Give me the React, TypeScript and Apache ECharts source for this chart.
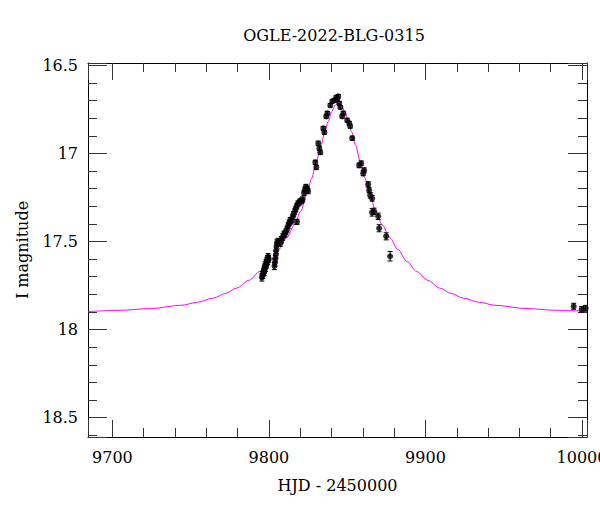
import React, { useEffect, useRef } from "react";
import * as echarts from "echarts";

const TITLE = "OGLE-2022-BLG-0315";
const X_NAME = "HJD - 2450000";
const Y_NAME = "I magnitude";

const X_MIN = 9684.4;
const X_MAX = 10003.2;
const Y_MIN = 16.487;
const Y_MAX = 18.61;

// observed photometry
const obsHjd = [
  9795.5, 9796.0, 9796.5, 9796.9, 9797.3, 9797.7, 9798.2, 9798.6, 9799.1, 9799.5,
  9796.0, 9797.0, 9797.8, 9798.5, 9799.2, 9799.8,
  9803.5, 9803.8, 9804.1, 9804.4, 9804.6, 9804.9, 9805.2, 9806.0, 9807.2, 9808.0,
  9808.8, 9809.6, 9810.3,
  9810.8, 9811.6, 9812.3, 9813.0, 9813.6, 9814.4, 9815.1, 9815.8, 9816.5, 9817.1,
  9817.8, 9818.5, 9819.3, 9820.0, 9820.8, 9821.5, 9817.9,
  9822.4, 9823.0, 9823.6, 9824.4, 9825.0,
  9829.6, 9830.3, 9831.5, 9832.2, 9832.8, 9834.7, 9835.4, 9837.3, 9836.6, 9839.2,
  9840.5, 9841.7, 9843.0, 9843.6, 9844.3, 9844.9, 9845.6, 9846.8, 9847.5, 9850.0,
  9851.3, 9851.9, 9853.2, 9857.6, 9858.9, 9860.2, 9860.8, 9863.4, 9864.0, 9864.7,
  9865.9, 9865.9, 9867.2, 9869.8, 9870.4, 9874.9, 9877.4,
  9994.7, 9999.8, 10002.3,
];
const obsMag = [
  17.705, 17.69, 17.675, 17.66, 17.648, 17.636, 17.622, 17.61, 17.6, 17.588,
  17.69, 17.672, 17.65, 17.63, 17.612, 17.598,
  17.64, 17.62, 17.6, 17.575, 17.55, 17.525, 17.505, 17.5, 17.51, 17.49,
  17.475, 17.46, 17.455,
  17.445, 17.43, 17.41, 17.395, 17.38, 17.385, 17.36, 17.345, 17.33, 17.315,
  17.3, 17.285, 17.28, 17.272, 17.268, 17.262, 17.389,
  17.225, 17.205, 17.19, 17.2, 17.215,
  17.051, 17.079, 16.943, 16.971, 16.994, 16.858, 16.88, 16.772, 16.79, 16.727,
  16.704, 16.699, 16.682, 16.693, 16.676, 16.716, 16.738, 16.79, 16.772, 16.812,
  16.829, 16.846, 16.914, 17.068, 17.056, 17.113, 17.096, 17.176, 17.21, 17.238,
  17.255, 17.335, 17.329, 17.357, 17.425, 17.471, 17.584,
  17.868, 17.885, 17.879,
];
const obsErr = [
  0.02, 0.02, 0.02, 0.02, 0.02, 0.02, 0.02, 0.02, 0.02, 0.02,
  0.02, 0.02, 0.02, 0.02, 0.02, 0.02,
  0.02, 0.02, 0.02, 0.018, 0.018, 0.018, 0.018, 0.018, 0.018, 0.018,
  0.018, 0.018, 0.018,
  0.016, 0.016, 0.016, 0.016, 0.016, 0.016, 0.015, 0.015, 0.015, 0.015,
  0.015, 0.015, 0.015, 0.015, 0.015, 0.015, 0.015,
  0.014, 0.014, 0.014, 0.014, 0.014,
  0.012, 0.012, 0.012, 0.012, 0.012, 0.011, 0.011, 0.01, 0.01, 0.01,
  0.01, 0.01, 0.01, 0.01, 0.01, 0.01, 0.01, 0.01, 0.01, 0.011,
  0.011, 0.011, 0.012, 0.013, 0.013, 0.014, 0.014, 0.015, 0.015, 0.016,
  0.016, 0.021, 0.018, 0.018, 0.02, 0.02, 0.027,
  0.017, 0.016, 0.016,
];

// fitted model curve
const modelHjd = [
  9684.4, 9704.3, 9724.3, 9744.3, 9754.3, 9764.3, 9772.3, 9779.3, 9787.3, 9794.3,
  9800.3, 9806.3, 9811.3, 9816.3, 9820.3, 9824.3, 9827.3, 9830.3, 9833.3, 9835.7,
  9837.8, 9840.0, 9842.3, 9844.3, 9846.3, 9848.6, 9850.8, 9852.9, 9855.3, 9858.3,
  9861.3, 9864.3, 9868.3, 9872.3, 9877.3, 9882.3, 9888.3, 9894.3, 9901.3, 9909.3,
  9916.3, 9924.3, 9934.3, 9944.3, 9964.3, 9984.3, 10003.2,
];
const modelMag = [
  17.898, 17.891, 17.881, 17.862, 17.845, 17.822, 17.795, 17.765, 17.72, 17.67,
  17.615, 17.545, 17.48, 17.405, 17.33, 17.228, 17.14, 17.045, 16.952, 16.88,
  16.82, 16.765, 16.727, 16.716, 16.727, 16.765, 16.82, 16.88, 16.952, 17.045,
  17.14, 17.228, 17.33, 17.405, 17.48, 17.545, 17.615, 17.67, 17.72, 17.765,
  17.795, 17.822, 17.845, 17.862, 17.881, 17.891, 17.897,
];

const FONT = "DejaVu Serif";

export default function App() {
  const ref = useRef<HTMLDivElement>(null);

  useEffect(() => {
    if (!ref.current) return;
    const chart = echarts.init(ref.current, undefined, { renderer: "svg" });

    const obsData = obsHjd.map((x, i) => [x, obsMag[i], obsErr[i]]);
    const modelData = modelHjd.map((x, i) => [x, modelMag[i]]);

    const tickStyle = { color: "#333", width: 1 };
    const axisLine = { show: true, lineStyle: { color: "#000", width: 1 } };
    const labelStyle = { fontFamily: FONT, fontSize: 16, color: "#000" };

    const xBase = {
      type: "value" as const,
      min: X_MIN,
      max: X_MAX,
      splitNumber: 3,
      axisLine,
      axisTick: { show: true, inside: true, length: 17, lineStyle: tickStyle },
      minorTick: { show: true, splitNumber: 5, length: 9, lineStyle: tickStyle },
      splitLine: { show: false },
      minorSplitLine: { show: false },
    };
    const yBase = {
      type: "value" as const,
      min: Y_MIN,
      max: Y_MAX,
      inverse: true,
      splitNumber: 4,
      axisLine,
      axisTick: { show: true, inside: true, length: 19, lineStyle: tickStyle },
      minorTick: { show: true, splitNumber: 5, length: 9, lineStyle: tickStyle },
      splitLine: { show: false },
      minorSplitLine: { show: false },
    };

    chart.setOption({
      animation: false,
      backgroundColor: "#fff",
      grid: {
        left: 88,
        right: 13,
        top: 63,
        bottom: 75,
        containLabel: false,
        outerBoundsMode: "none",
      },
      graphic: [
        {
          type: "text",
          x: 334,
          y: 35,
          style: {
            text: TITLE,
            textAlign: "center",
            textVerticalAlign: "middle",
            fontFamily: FONT,
            fontSize: 16,
            fill: "#000",
          },
        },
      ],
      xAxis: [
        {
          ...xBase,
          position: "bottom",
          name: X_NAME,
          nameLocation: "middle",
          nameGap: 40,
          nameTextStyle: labelStyle,
          axisLabel: {
            ...labelStyle,
            margin: 12,
            showMinLabel: false,
            showMaxLabel: false,
            hideOverlap: false,
            formatter: (v: number) => String(Math.round(v)),
          },
        },
        {
          ...xBase,
          position: "top",
          axisLabel: { show: false },
        },
      ],
      yAxis: [
        {
          ...yBase,
          position: "left",
          name: Y_NAME,
          nameLocation: "middle",
          nameGap: 58,
          nameTextStyle: labelStyle,
          axisLabel: {
            ...labelStyle,
            margin: 10,
            showMinLabel: false,
            showMaxLabel: false,
          },
        },
        {
          ...yBase,
          position: "right",
          axisLabel: { show: false },
        },
      ],
      series: [
        {
          type: "line",
          data: modelData,
          xAxisIndex: 0,
          yAxisIndex: 0,
          smooth: 0.3,
          smoothMonotone: "x",
          showSymbol: false,
          symbol: "none",
          clip: true,
          lineStyle: { color: "#ff00ff", width: 1 },
          z: 2,
        },
        {
          type: "custom",
          data: obsData,
          xAxisIndex: 0,
          yAxisIndex: 0,
          clip: true,
          z: 3,
          renderItem: (params: any, api: any) => {
            const x = api.value(0);
            const y = api.value(1);
            const e = api.value(2);
            const a = api.coord([x, y - e]);
            const b = api.coord([x, y + e]);
            const h = 2.5;
            const st = { stroke: "#000", lineWidth: 1 };
            return {
              type: "group",
              children: [
                { type: "line", shape: { x1: a[0], y1: a[1], x2: b[0], y2: b[1] }, style: st },
                { type: "line", shape: { x1: a[0] - h, y1: a[1], x2: a[0] + h, y2: a[1] }, style: st },
                { type: "line", shape: { x1: b[0] - h, y1: b[1], x2: b[0] + h, y2: b[1] }, style: st },
              ],
            };
          },
        },
        {
          type: "scatter",
          data: obsData,
          xAxisIndex: 0,
          yAxisIndex: 0,
          symbol: "circle",
          symbolSize: 6,
          clip: true,
          itemStyle: { color: "#000" },
          z: 4,
        },
      ],
    });

    return () => chart.dispose();
  }, []);

  return (
    <div
      ref={ref}
      style={{ position: "fixed", left: 0, top: 0, width: 600, height: 512, background: "#fff" }}
    />
  );
}
